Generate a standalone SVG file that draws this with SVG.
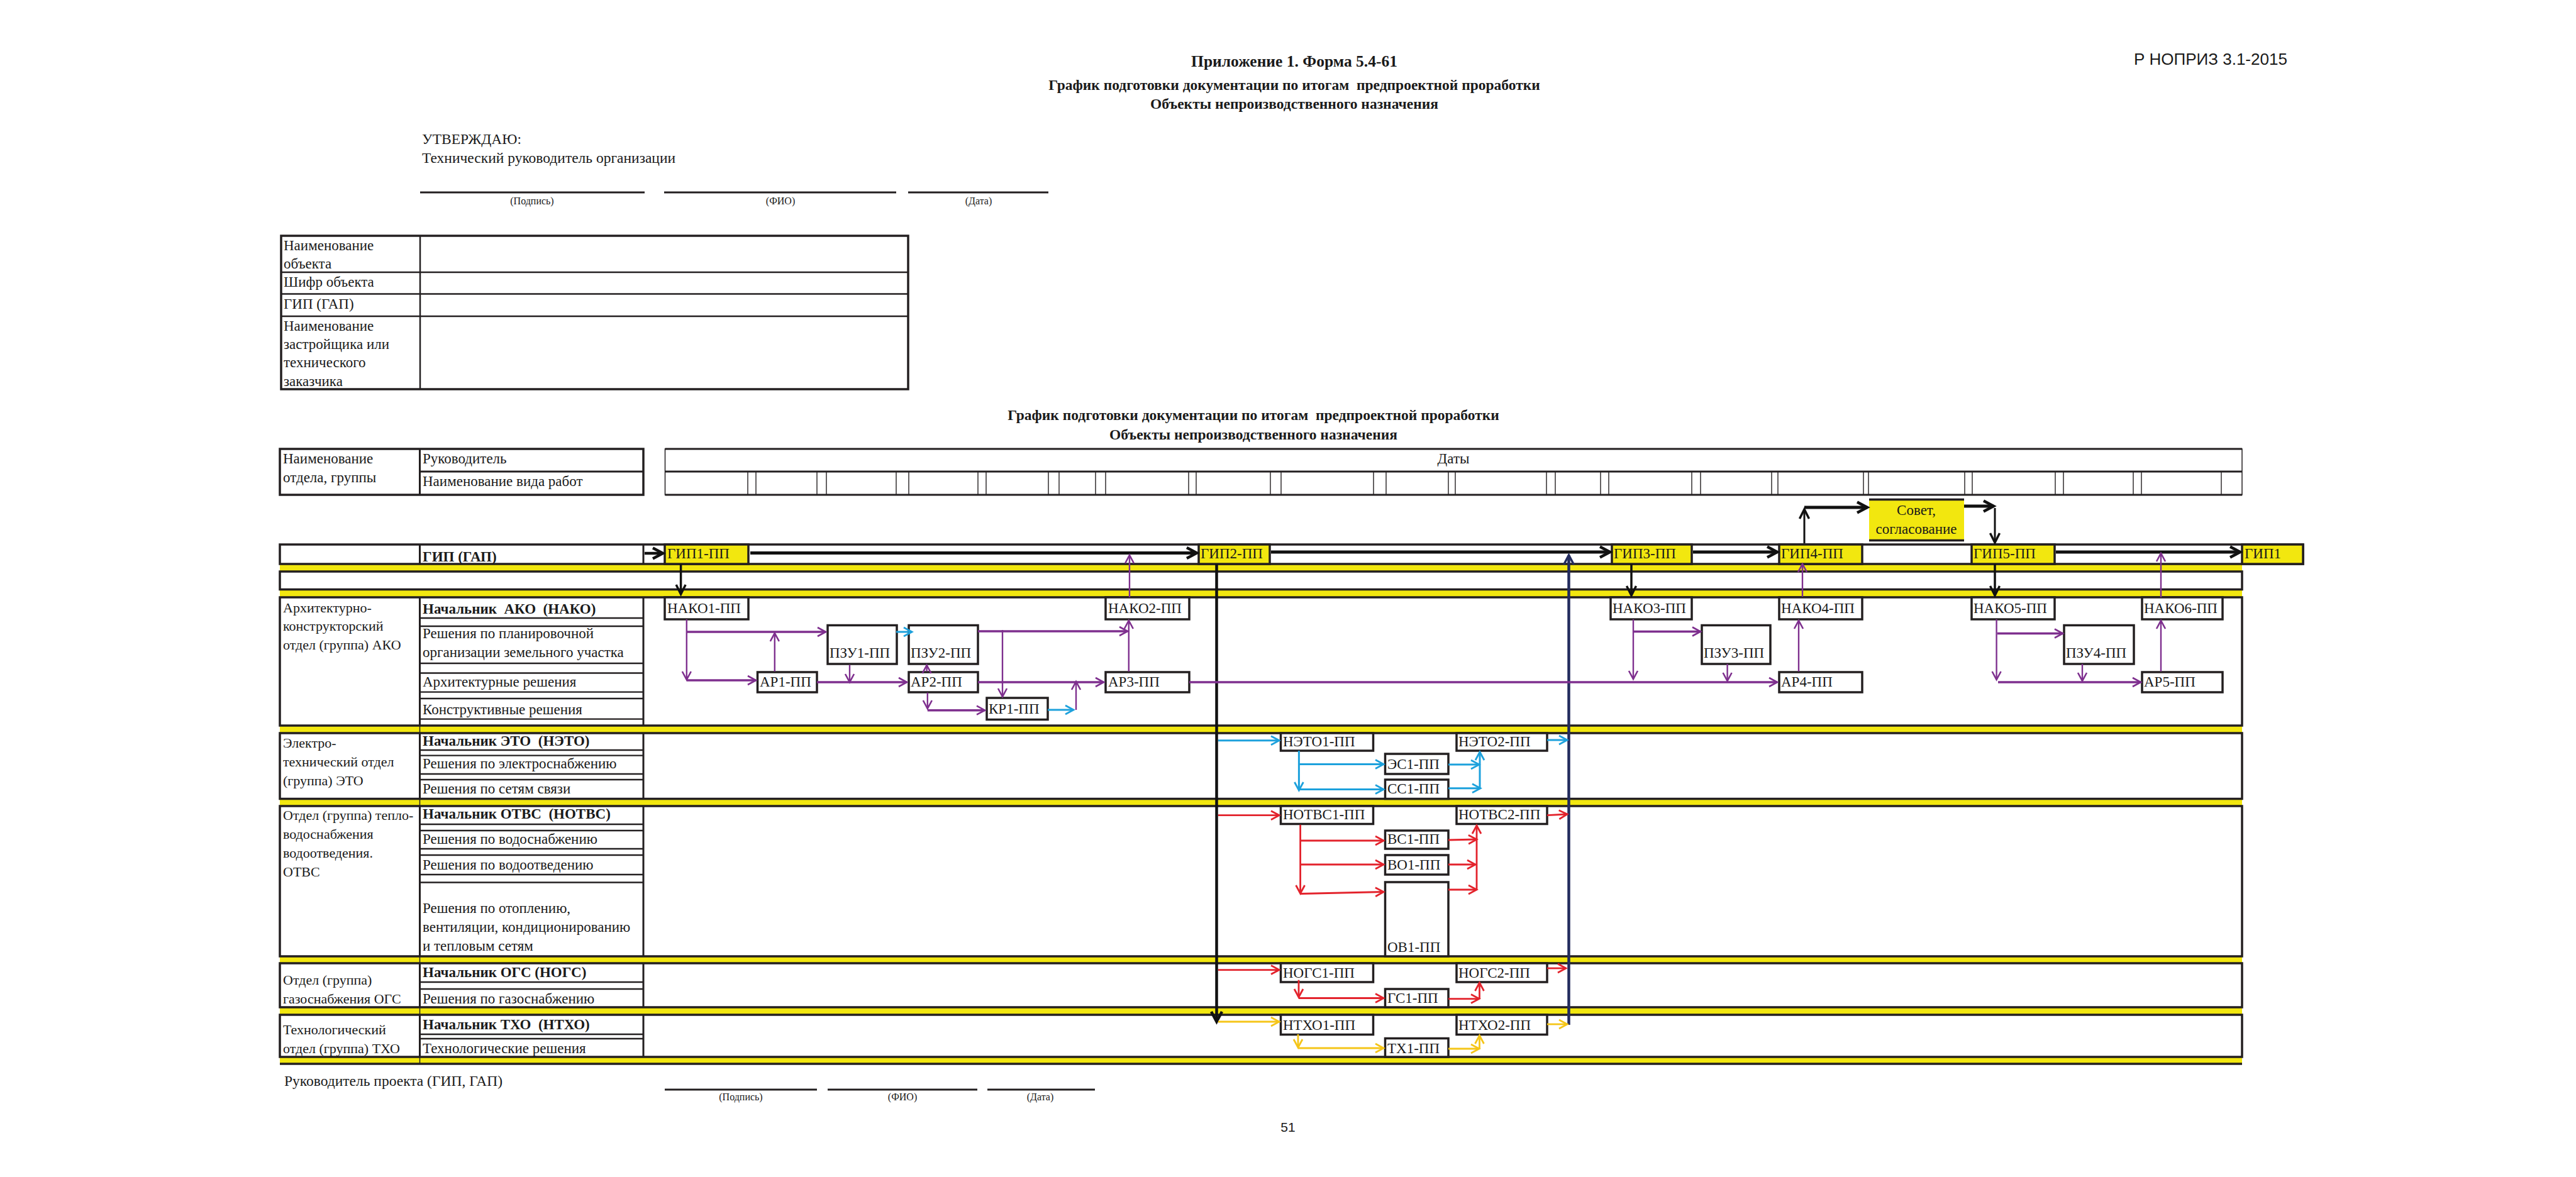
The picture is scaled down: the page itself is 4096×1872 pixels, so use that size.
<svg xmlns="http://www.w3.org/2000/svg" width="4096" height="1872" viewBox="0 0 4096 1872">
<style>
text{font-family:"Liberation Serif","Times New Roman",serif;fill:#1a1a1a}
.t{font-size:23px}
.d{font-size:22px}
.u{font-size:23.5px}
.b{font-weight:bold}
.s{font-size:16px}
.h{font-size:23.5px;font-weight:bold}
.h1{font-size:25.5px;font-weight:bold}
.n{font-size:23px}
.pre{white-space:pre}
.sans{font-family:"Liberation Sans",Arial,sans-serif}
.ln{stroke:#231f20;fill:none}
.bx{fill:#fff;stroke:#231f20;stroke-width:3.5}
.yb{fill:#F2E70F;stroke:#231f20;stroke-width:3.5}
.ys{fill:#F2E70F}
.sec{fill:none;stroke:#231f20;stroke-width:3.5}
.g{stroke:#231f20;stroke-width:1.4}
.cK{stroke:#111;fill:none}
.cP{stroke:#7E2F8E;fill:none}
.cB{stroke:#1DA1DC;fill:none;stroke-width:3}
.cR{stroke:#E3232C;fill:none;stroke-width:2.8}
.cY{stroke:#F5C518;fill:none;stroke-width:2.8}
.cN{stroke:#232C5E;fill:none;stroke-width:4.5}
.w1{stroke-width:2.4}
.w2{stroke-width:3.5}
.w5{stroke-width:5}
</style>
<defs>
<marker id="mK" viewBox="-20 -12 24 24" refX="0" refY="0" markerWidth="24" markerHeight="24" markerUnits="userSpaceOnUse" orient="auto" overflow="visible"><path d="M-16,-8.5 L0,0 L-16,8.5" fill="none" stroke="#111" stroke-width="4.5" stroke-linejoin="miter"/></marker>
<marker id="mKs" viewBox="-20 -12 24 24" refX="0" refY="0" markerWidth="24" markerHeight="24" markerUnits="userSpaceOnUse" orient="auto" overflow="visible"><path d="M-15,-7.5 L0,0 L-15,7.5" fill="none" stroke="#111" stroke-width="3.5"/></marker>
<marker id="mP" viewBox="-20 -12 24 24" refX="0" refY="0" markerWidth="24" markerHeight="24" markerUnits="userSpaceOnUse" orient="auto" overflow="visible"><path d="M-13,-7 L0,0 L-13,7" fill="none" stroke="#7E2F8E" stroke-width="2.6"/></marker>
<marker id="mB" viewBox="-20 -12 24 24" refX="0" refY="0" markerWidth="24" markerHeight="24" markerUnits="userSpaceOnUse" orient="auto" overflow="visible"><path d="M-13,-7 L0,0 L-13,7" fill="none" stroke="#1DA1DC" stroke-width="2.8"/></marker>
<marker id="mR" viewBox="-20 -12 24 24" refX="0" refY="0" markerWidth="24" markerHeight="24" markerUnits="userSpaceOnUse" orient="auto" overflow="visible"><path d="M-13,-7 L0,0 L-13,7" fill="none" stroke="#E3232C" stroke-width="2.8"/></marker>
<marker id="mY" viewBox="-20 -12 24 24" refX="0" refY="0" markerWidth="24" markerHeight="24" markerUnits="userSpaceOnUse" orient="auto" overflow="visible"><path d="M-13,-7 L0,0 L-13,7" fill="none" stroke="#F5C518" stroke-width="2.8"/></marker>
<marker id="mN" viewBox="-20 -12 24 24" refX="0" refY="0" markerWidth="24" markerHeight="24" markerUnits="userSpaceOnUse" orient="auto" overflow="visible"><path d="M-15,-8 L0,0 L-15,8" fill="none" stroke="#232C5E" stroke-width="3.5"/></marker>
</defs>
<rect width="4096" height="1872" fill="#fff"/>

<g id="header">
<text class="h1" x="2058" y="106" text-anchor="middle">Приложение 1. Форма 5.4-61</text>
<text class="h pre" x="2058" y="143" text-anchor="middle">График подготовки документации по итогам  предпроектной проработки</text>
<text class="h" x="2058" y="173" text-anchor="middle">Объекты непроизводственного назначения</text>
<text class="sans" x="3393" y="103" font-size="26">Р НОПРИЗ 3.1-2015</text>
<text class="u" x="671" y="229">УТВЕРЖДАЮ:</text>
<text class="u" x="671" y="259">Технический руководитель организации</text>
<path class="ln" stroke-width="3" d="M668,306H1025M1056,306H1425M1444,306H1667"/>
<text class="s" x="846" y="325" text-anchor="middle">(Подпись)</text>
<text class="s" x="1241" y="325" text-anchor="middle">(ФИО)</text>
<text class="s" x="1556" y="325" text-anchor="middle">(Дата)</text>
</g>

<g id="info-table">
<rect x="447" y="375" width="997" height="244" class="sec" stroke-width="2.5"/>
<path class="ln" stroke-width="2.5" d="M668,375V619M447,433H1444M447,467.5H1444M447,503H1444"/>
<text class="t" x="451" y="398">Наименование</text>
<text class="t" x="451" y="427">объекта</text>
<text class="t" x="451" y="456">Шифр объекта</text>
<text class="t" x="451" y="491">ГИП (ГАП)</text>
<text class="t" x="451" y="525.6">Наименование</text>
<text class="t" x="451" y="555">застройщика или</text>
<text class="t" x="451" y="584">технического</text>
<text class="t" x="451" y="613.5">заказчика</text>
</g>

<g id="title2">
<text class="h pre" x="1993" y="668" text-anchor="middle">График подготовки документации по итогам  предпроектной проработки</text>
<text class="h" x="1993" y="699" text-anchor="middle">Объекты непроизводственного назначения</text>
</g>

<g id="table-header">
<rect x="445" y="714" width="578" height="73" class="sec" stroke-width="3"/>
<path class="ln" stroke-width="3" d="M667.5,714V787M667.5,750H1023"/>
<text class="t" x="450" y="737">Наименование</text>
<text class="t" x="450" y="766.5">отдела, группы</text>
<text class="t" x="672" y="737">Руководитель</text>
<text class="t" x="672" y="772.5">Наименование вида работ</text>
<rect x="1057.5" y="714" width="2507.5" height="73" fill="none" stroke="#231f20" stroke-width="1.5"/>
<path class="ln" stroke-width="3" d="M1057.5,714H3565M1057.5,750H3565M1057.5,787H3565"/>
<text class="t" x="2311" y="737" text-anchor="middle">Даты</text>
<path class="g" d="M1189,750V787M1202,750V787M1299,750V787M1314,750V787M1425,750V787M1445,750V787M1555,750V787M1568,750V787M1667,750V787M1684,750V787M1742,750V787M1758,750V787M1890,750V787M1902,750V787M2020,750V787M2037,750V787M2184,750V787M2204,750V787M2303,750V787M2314,750V787M2459,750V787M2473,750V787M2545,750V787M2558,750V787M2690,750V787M2704,750V787M2817,750V787M2827,750V787M2963,750V787M2971,750V787M3124,750V787M3136,750V787M3268,750V787M3281,750V787M3392,750V787M3405,750V787M3532,750V787"/>
</g>

<g id="stripes">
<rect class="ys" x="445" y="897" width="3120" height="12"/>
<rect class="ys" x="445" y="937.5" width="3120" height="12.5"/>
<rect class="ys" x="445" y="1154" width="3120" height="12"/>
<rect class="ys" x="445" y="1270.5" width="3120" height="11.5"/>
<rect class="ys" x="445" y="1521" width="3120" height="11"/>
<rect class="ys" x="445" y="1602" width="3120" height="12"/>
<rect class="ys" x="445" y="1681" width="3120" height="11"/>
<path class="ln" stroke-width="1.5" d="M667.5,1154V1166M667.5,1270.5V1282M667.5,1521V1532M667.5,1602V1614M667.5,1681V1692"/>
<path class="ln" stroke-width="3.5" d="M445,1692H3565"/>
</g>

<g id="sections">
<rect class="sec" x="445" y="866" width="3217" height="31"/>
<path class="ln" stroke-width="3" d="M667.5,866V897M1023,866V897"/>
<text class="t b" x="672" y="892.5">ГИП (ГАП)</text>
<rect class="sec" x="445" y="909" width="3120" height="28.5"/>

<rect class="sec" x="445" y="950" width="3120" height="204"/>
<path class="ln" stroke-width="3" d="M667.5,950V1154M1023,950V1154"/>
<path class="ln" stroke-width="2.3" d="M667.5,983H1023M667.5,996H1023M667.5,1055H1023M667.5,1070.5H1023M667.5,1100.6H1023M667.5,1111H1023M667.5,1143.7H1023"/>
<text class="d" x="450" y="973.7">Архитектурно-</text>
<text class="d" x="450" y="1003">конструкторский</text>
<text class="d" x="450" y="1033">отдел (группа) АКО</text>
<text class="t b pre" x="672" y="975.5">Начальник  АКО  (НАКО)</text>
<text class="t" x="672" y="1014.6">Решения по планировочной</text>
<text class="t" x="672" y="1044.8">организации земельного участка</text>
<text class="t" x="672" y="1091.6">Архитектурные решения</text>
<text class="t" x="672" y="1135.5">Конструктивные решения</text>

<rect class="sec" x="445" y="1166" width="3120" height="104.5"/>
<path class="ln" stroke-width="3" d="M667.5,1166V1270.5M1023,1166V1270.5"/>
<path class="ln" stroke-width="2.3" d="M667.5,1193H1023M667.5,1201.6H1023M667.5,1231H1023M667.5,1240H1023"/>
<text class="d" x="450" y="1189">Электро-</text>
<text class="d" x="450" y="1219">технический отдел</text>
<text class="d" x="450" y="1249">(группа) ЭТО</text>
<text class="t b pre" x="672" y="1186">Начальник ЭТО  (НЭТО)</text>
<text class="t" x="672" y="1222">Решения по электроснабжению</text>
<text class="t" x="672" y="1262">Решения по сетям связи</text>

<rect class="sec" x="445" y="1282" width="3120" height="239"/>
<path class="ln" stroke-width="3" d="M667.5,1282V1521M1023,1282V1521"/>
<path class="ln" stroke-width="2.3" d="M667.5,1311H1023M667.5,1321H1023M667.5,1350H1023M667.5,1360H1023M667.5,1391H1023M667.5,1403.5H1023"/>
<text class="d" x="450" y="1304">Отдел (группа) тепло-</text>
<text class="d" x="450" y="1334">водоснабжения</text>
<text class="d" x="450" y="1364">водоотведения.</text>
<text class="d" x="450" y="1394">ОТВС</text>
<text class="t b pre" x="672" y="1302">Начальник ОТВС  (НОТВС)</text>
<text class="t" x="672" y="1342">Решения по водоснабжению</text>
<text class="t" x="672" y="1383">Решения по водоотведению</text>
<text class="t" x="672" y="1452">Решения по отоплению,</text>
<text class="t" x="672" y="1482">вентиляции, кондиционированию</text>
<text class="t" x="672" y="1512">и тепловым сетям</text>

<rect class="sec" x="445" y="1532" width="3120" height="70"/>
<path class="ln" stroke-width="3" d="M667.5,1532V1602M1023,1532V1602"/>
<path class="ln" stroke-width="2.3" d="M667.5,1562H1023M667.5,1573H1023"/>
<text class="d" x="450" y="1566">Отдел (группа)</text>
<text class="d" x="450" y="1596">газоснабжения ОГС</text>
<text class="t b" x="672" y="1554">Начальник ОГС (НОГС)</text>
<text class="t" x="672" y="1596">Решения по газоснабжению</text>

<rect class="sec" x="445" y="1614" width="3120" height="67"/>
<path class="ln" stroke-width="3" d="M667.5,1614V1681M1023,1614V1681"/>
<path class="ln" stroke-width="2.3" d="M667.5,1645H1023M667.5,1652H1023"/>
<text class="d" x="450" y="1645">Технологический</text>
<text class="d" x="450" y="1675">отдел (группа) ТХО</text>
<text class="t b pre" x="672" y="1637">Начальник ТХО  (НТХО)</text>
<text class="t" x="672" y="1675">Технологические решения</text>
</g>

<g id="nodes">
<g id="gip1pp"><rect class="yb" x="1057" y="866" width="133" height="31"/><text class="n" x="1061" y="888">ГИП1-ПП</text></g>
<g id="gip2pp"><rect class="yb" x="1906" y="866" width="113" height="31"/><text class="n" x="1909" y="888">ГИП2-ПП</text></g>
<g id="gip3pp"><rect class="yb" x="2563" y="866" width="127" height="31"/><text class="n" x="2566" y="888">ГИП3-ПП</text></g>
<g id="gip4pp"><rect class="yb" x="2829" y="866" width="132" height="31"/><text class="n" x="2832" y="888">ГИП4-ПП</text></g>
<g id="gip5pp"><rect class="yb" x="3135" y="866" width="132" height="31"/><text class="n" x="3138" y="888">ГИП5-ПП</text></g>
<g id="gip1"><rect class="yb" x="3565" y="866" width="97" height="31"/><text class="n" x="3569" y="888">ГИП1</text></g>
<g id="sovet"><rect class="ys" x="2972" y="793" width="151" height="68"/><path class="ln" stroke-width="3.5" d="M2972,794.5H3123M2972,859.5H3123"/><text class="n" x="3047" y="819" text-anchor="middle">Совет,</text><text class="n" x="3047" y="849" text-anchor="middle">согласование</text></g>

<g id="nako1"><rect class="bx" x="1057" y="950" width="133" height="35"/><text class="n" x="1061" y="975">НАКО1-ПП</text></g>
<g id="nako2"><rect class="bx" x="1758" y="950" width="133" height="35"/><text class="n" x="1762" y="975">НАКО2-ПП</text></g>
<g id="nako3"><rect class="bx" x="2561" y="950" width="129" height="35"/><text class="n" x="2564" y="975">НАКО3-ПП</text></g>
<g id="nako4"><rect class="bx" x="2829" y="950" width="132" height="35"/><text class="n" x="2832" y="975">НАКО4-ПП</text></g>
<g id="nako5"><rect class="bx" x="3135" y="950" width="132" height="35"/><text class="n" x="3138" y="975">НАКО5-ПП</text></g>
<g id="nako6"><rect class="bx" x="3406" y="950" width="128" height="35"/><text class="n" x="3409" y="975">НАКО6-ПП</text></g>
<g id="pzu1"><rect class="bx" x="1316" y="994.5" width="110" height="61.5"/><text class="n" x="1319" y="1046">ПЗУ1-ПП</text></g>
<g id="pzu2"><rect class="bx" x="1445" y="994.5" width="110" height="61.5"/><text class="n" x="1448" y="1046">ПЗУ2-ПП</text></g>
<g id="pzu3"><rect class="bx" x="2706" y="994.5" width="109" height="61.5"/><text class="n" x="2709" y="1046">ПЗУ3-ПП</text></g>
<g id="pzu4"><rect class="bx" x="3282" y="994.5" width="111" height="61.5"/><text class="n" x="3285" y="1046">ПЗУ4-ПП</text></g>
<g id="ar1"><rect class="bx" x="1204.5" y="1069" width="94.5" height="32"/><text class="n" x="1208" y="1092">АР1-ПП</text></g>
<g id="ar2"><rect class="bx" x="1445" y="1069" width="110" height="32"/><text class="n" x="1448" y="1092">АР2-ПП</text></g>
<g id="ar3"><rect class="bx" x="1758" y="1069" width="133" height="32"/><text class="n" x="1762" y="1092">АР3-ПП</text></g>
<g id="ar4"><rect class="bx" x="2829" y="1069" width="132" height="32"/><text class="n" x="2832" y="1092">АР4-ПП</text></g>
<g id="ar5"><rect class="bx" x="3406" y="1069" width="128" height="32"/><text class="n" x="3409" y="1092">АР5-ПП</text></g>
<g id="kr1"><rect class="bx" x="1569" y="1110" width="97" height="34.5"/><text class="n" x="1572" y="1135">КР1-ПП</text></g>

<g id="neto1"><rect class="bx" x="2036.5" y="1166" width="147" height="28"/><text class="n" x="2040" y="1187">НЭТО1-ПП</text></g>
<g id="neto2"><rect class="bx" x="2316" y="1166" width="144" height="28"/><text class="n" x="2319" y="1187">НЭТО2-ПП</text></g>
<g id="es1"><rect class="bx" x="2202.5" y="1199" width="100.5" height="32"/><text class="n" x="2206" y="1223">ЭС1-ПП</text></g>
<g id="ss1"><rect class="bx" x="2202.5" y="1240" width="100.5" height="30.5"/><text class="n" x="2206" y="1262">СС1-ПП</text></g>
<g id="notvs1"><rect class="bx" x="2036.5" y="1282" width="147" height="28.5"/><text class="n" x="2040" y="1303">НОТВС1-ПП</text></g>
<g id="notvs2"><rect class="bx" x="2316" y="1282" width="144" height="28.5"/><text class="n" x="2319" y="1303">НОТВС2-ПП</text></g>
<g id="vs1"><rect class="bx" x="2202.5" y="1321" width="100.5" height="29"/><text class="n" x="2206" y="1342">ВС1-ПП</text></g>
<g id="vo1"><rect class="bx" x="2202.5" y="1360" width="100.5" height="31"/><text class="n" x="2206" y="1383">ВО1-ПП</text></g>
<g id="ov1"><rect class="bx" x="2202.5" y="1403" width="100.5" height="118"/><text class="n" x="2206" y="1514">ОВ1-ПП</text></g>
<g id="nogs1"><rect class="bx" x="2036.5" y="1532" width="147" height="30"/><text class="n" x="2040" y="1555">НОГС1-ПП</text></g>
<g id="nogs2"><rect class="bx" x="2316" y="1532" width="144" height="30"/><text class="n" x="2319" y="1555">НОГС2-ПП</text></g>
<g id="gs1"><rect class="bx" x="2202.5" y="1573" width="100.5" height="29"/><text class="n" x="2206" y="1595">ГС1-ПП</text></g>
<g id="ntxo1"><rect class="bx" x="2036.5" y="1614" width="147" height="31.5"/><text class="n" x="2040" y="1638">НТХО1-ПП</text></g>
<g id="ntxo2"><rect class="bx" x="2316" y="1614" width="144" height="31.5"/><text class="n" x="2319" y="1638">НТХО2-ПП</text></g>
<g id="tx1"><rect class="bx" x="2202.5" y="1651.5" width="100.5" height="29.5"/><text class="n" x="2206" y="1675">ТХ1-ПП</text></g>
</g>

<g id="connectors">
<path class="cK" stroke-width="4.5" d="M1025,880H1054" marker-end="url(#mK)"/>
<path class="cK w5" d="M1193,879.5H1903" marker-end="url(#mK)"/>
<path class="cK w5" d="M2021,878H2560" marker-end="url(#mK)"/>
<path class="cK w5" d="M2692,878H2826" marker-end="url(#mK)"/>
<path class="cK w5" d="M3269,878H3562" marker-end="url(#mK)"/>
<path class="cK" stroke-width="3.5" d="M1082.6,897V945" marker-end="url(#mKs)"/>
<path class="cK" stroke-width="3.5" d="M2594,897V947" marker-end="url(#mKs)"/>
<path class="cK" stroke-width="3.5" d="M3172,897V947" marker-end="url(#mKs)"/>
<path class="cK" stroke-width="3" d="M2869,864V810" marker-end="url(#mKs)"/>
<path class="cK w5" d="M2869,807H2969" marker-end="url(#mK)"/>
<path class="cK w5" d="M3123,805H3170" marker-end="url(#mK)"/>
<path class="cK" stroke-width="3" d="M3172,808V863" marker-end="url(#mKs)"/>
<path class="cK" stroke-width="4.5" d="M1934.5,897V1625" marker-end="url(#mK)"/>
<path class="cN" d="M2494.5,1630V883" marker-end="url(#mN)"/>

<path class="cP w1" d="M1091.8,985V1081" marker-end="url(#mP)"/>
<path class="cP w2" d="M1091.8,1082H1202" marker-end="url(#mP)"/>
<path class="cP w2" d="M1093,1005H1313" marker-end="url(#mP)"/>
<path class="cP w1" d="M1231.8,1068V1007" marker-end="url(#mP)"/>
<path class="cP w2" d="M1299,1085H1442" marker-end="url(#mP)"/>
<path class="cP w1" d="M1351,1057.5V1085" marker-end="url(#mP)"/>
<path class="cP w1" d="M1473.6,1068V1058" marker-end="url(#mP)"/>
<path class="cP w2" d="M1555,1004H1793" marker-end="url(#mP)"/>
<path class="cP w1" d="M1594,1002V1108" marker-end="url(#mP)"/>
<path class="cP w1" d="M1474.8,1101.6V1127" marker-end="url(#mP)"/>
<path class="cP w2" d="M1474.8,1129.7H1566" marker-end="url(#mP)"/>
<path class="cP w1" d="M1711,1129V1084" marker-end="url(#mP)"/>
<path class="cP w2" d="M1555,1085H1755" marker-end="url(#mP)"/>
<path class="cP w1" d="M1794.8,1068V987" marker-end="url(#mP)"/>
<path class="cP w1" d="M1796,950V883" marker-end="url(#mP)"/>
<path class="cP w2" d="M1891,1085H2826" marker-end="url(#mP)"/>
<path class="cB" d="M1425,1005H1450" marker-end="url(#mB)"/>
<path class="cB" d="M1666,1129H1707" marker-end="url(#mB)"/>

<path class="cP w1" d="M2597,985V1080" marker-end="url(#mP)"/>
<path class="cP w2" d="M2597,1004.5H2704" marker-end="url(#mP)"/>
<path class="cP w1" d="M2746.6,1056V1083" marker-end="url(#mP)"/>
<path class="cP w1" d="M2860,1068V987" marker-end="url(#mP)"/>
<path class="cP w1" d="M2866,949V897" marker-end="url(#mP)"/>
<path class="cP w1" d="M3174.6,985V1081" marker-end="url(#mP)"/>
<path class="cP w2" d="M3176,1007.5H3280" marker-end="url(#mP)"/>
<path class="cP w1" d="M3311,1056V1083" marker-end="url(#mP)"/>
<path class="cP w2" d="M3177,1085H3404" marker-end="url(#mP)"/>
<path class="cP w1" d="M3436,1068V987" marker-end="url(#mP)"/>
<path class="cP w1" d="M3436,950V880" marker-end="url(#mP)"/>

<path class="cB" d="M1937,1177.7H2034" marker-end="url(#mB)"/>
<path class="cB" d="M2065.4,1194V1257" marker-end="url(#mB)"/>
<path class="cB" d="M2066,1215.5H2200" marker-end="url(#mB)"/>
<path class="cB" d="M2066,1255.5H2200" marker-end="url(#mB)"/>
<path class="cB" d="M2303,1216H2352" marker-end="url(#mB)"/>
<path class="cB" d="M2303,1253.7H2354" marker-end="url(#mB)"/>
<path class="cB" d="M2353,1253V1196" marker-end="url(#mB)"/>
<path class="cB" d="M2460,1177H2492" marker-end="url(#mB)"/>

<path class="cR" d="M1937,1296.7H2034" marker-end="url(#mR)"/>
<path class="cR" d="M2067.6,1311.7V1421" marker-end="url(#mR)"/>
<path class="cR" d="M2069,1337H2200" marker-end="url(#mR)"/>
<path class="cR" d="M2067.6,1375H2200" marker-end="url(#mR)"/>
<path class="cR" d="M2067.6,1421.5L2200,1418.5" marker-end="url(#mR)"/>
<path class="cR" d="M2303,1336L2348,1335" marker-end="url(#mR)"/>
<path class="cR" d="M2303,1375H2346" marker-end="url(#mR)"/>
<path class="cR" d="M2303,1415H2348" marker-end="url(#mR)"/>
<path class="cR" d="M2348,1415V1313" marker-end="url(#mR)"/>
<path class="cR" d="M2460,1296.7L2492,1295" marker-end="url(#mR)"/>
<path class="cR" d="M1937,1542.6H2034" marker-end="url(#mR)"/>
<path class="cR" d="M2065,1558.7V1586" marker-end="url(#mR)"/>
<path class="cR" d="M2065,1587.5H2200" marker-end="url(#mR)"/>
<path class="cR" d="M2303,1588.6H2352" marker-end="url(#mR)"/>
<path class="cR" d="M2352.5,1589V1563" marker-end="url(#mR)"/>
<path class="cR" d="M2460,1540H2490" marker-end="url(#mR)"/>

<path class="cY" d="M1937,1625H2034" marker-end="url(#mY)"/>
<path class="cY" d="M2064,1645V1666" marker-end="url(#mY)"/>
<path class="cY" d="M2064,1667H2200" marker-end="url(#mY)"/>
<path class="cY" d="M2303,1668H2352" marker-end="url(#mY)"/>
<path class="cY" d="M2352.5,1668V1647" marker-end="url(#mY)"/>
<path class="cY" d="M2460,1629H2492" marker-end="url(#mY)"/>
</g>

<g id="footer">
<text class="u" x="452" y="1727">Руководитель проекта (ГИП, ГАП)</text>
<path class="ln" stroke-width="3" d="M1057,1733H1299M1316,1733H1554M1570,1733H1741"/>
<text class="s" x="1178" y="1750" text-anchor="middle">(Подпись)</text>
<text class="s" x="1435" y="1750" text-anchor="middle">(ФИО)</text>
<text class="s" x="1654" y="1750" text-anchor="middle">(Дата)</text>
<text class="sans" x="2048" y="1800" font-size="21" text-anchor="middle">51</text>
</g>
</svg>
